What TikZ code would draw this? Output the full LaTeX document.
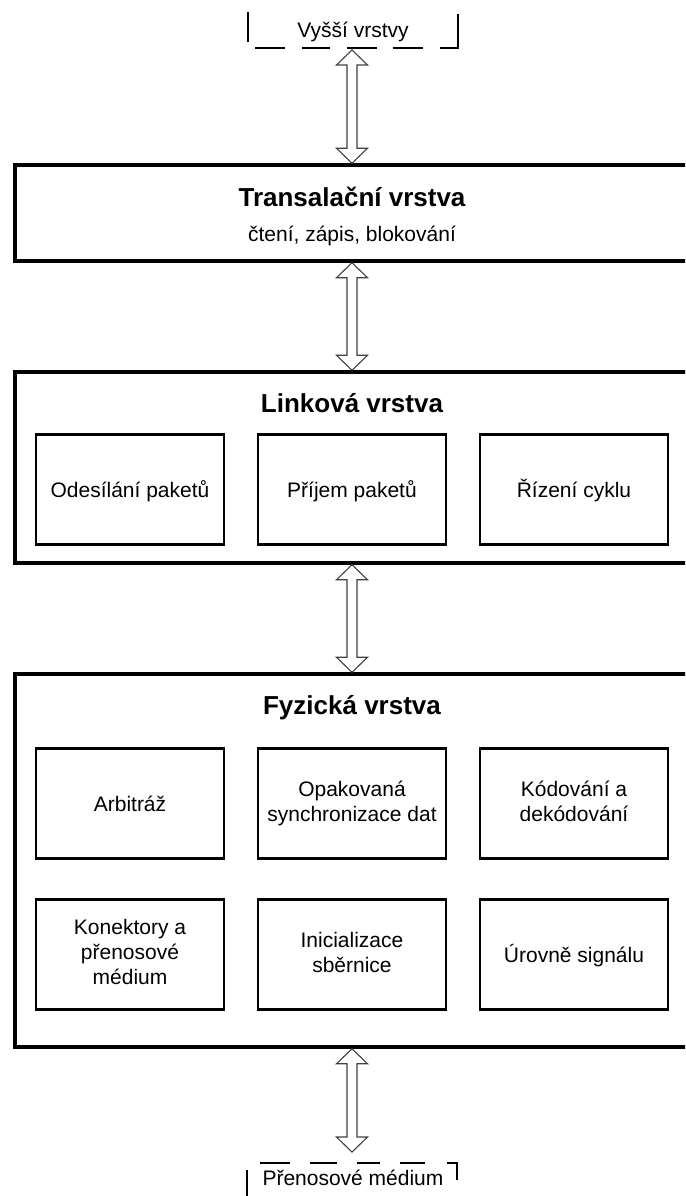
\documentclass[tikz,border=0pt]{standalone}
\usepackage{fontspec}
\setmainfont{Liberation Sans}
\usetikzlibrary{calc}

\tikzset{
  layer/.style={draw, line width=3.5pt, minimum width=674pt, inner sep=0pt},
  unit/.style={draw, line width=2.6pt, minimum width=188pt, minimum height=110pt, inner sep=0pt, align=center, font=\fontsize{21}{25}\selectfont,
    execute at begin node=\rule{0pt}{20pt}, execute at end node=\rule[-5pt]{0pt}{5pt}},
  title/.style={font=\fontsize{26}{30}\selectfont\bfseries},
  plain/.style={font=\fontsize{21}{25}\selectfont},
  frame/.style={line width=1.8pt},
  blockarrow/.style={line width=1.1pt, draw=black!75, fill=white, line join=miter},
}
\newcommand\layerarrow[2]{\draw[blockarrow] (#1) -- ++(15.5,15) -- ++(-10.5,0) -- ($(#2)+(5,-15)$) -- ++(10.5,0) -- (#2) -- ++(-15.5,-15) -- ++(10.5,0) -- ($(#1)+(-5,15)$) -- ++(-10.5,0) -- cycle;}

\begin{document}
\begin{tikzpicture}[x=1pt, y=-1pt]
			%%%%% START %%%%%
			\useasboundingbox (0,0) rectangle (685,1196);
			\clip (0,0) rectangle (685,1196);
			
			% upper layers
			\node[plain] (vyssi) at (353,32) {Vyšší vrstvy};
			\draw[frame, dash pattern=on 30pt off 13pt on 30pt off 17pt on 28pt off 17pt on 30pt off 16pt on 30pt off 17pt on 52pt off 100pt]
				(248,12) -- (248,48) -- (458,48) -- (458,-20);
			\coordinate (vyssiB) at (352,50);
			
			% transaction layer
			\node[layer, minimum height=96pt] (trans) at (352,213) {};
			\node[title] (transT) at (352,197) {Transalační vrstva};
			\node[plain] (transS) at (352,236) {čtení, zápis, blokování};
			
			% link layer
			\node[layer, minimum height=191pt] (link) at (352,467.5) {};
			\node[title] (linkT) at (352,403) {Linková vrstva};
			\node[unit] (odes) at (130,489.5) {Odesílání paketů};
			\node[unit] (prij) at (352,489.5) {Příjem paketů};
			\node[unit] (rize) at (574,489.5) {Řízení cyklu};
			
			% physical layer
			\node[layer, minimum height=373pt] (fyz) at (352,860.5) {};
			\node[title] (fyzT) at (352,708) {Fyzická vrstva};
			\node[unit] (arbi) at (130,803.5) {Arbitráž};
			\node[unit] (sync) at (352,803.5) {Opakovaná\\synchronizace dat};
			\node[unit] (kodo) at (574,803.5) {Kódování a\\dekódování};
			\node[unit] (kone) at (130,954.5) {Konektory a\\přenosové\\médium};
			\node[unit] (init) at (352,954.5) {Inicializace\\sběrnice};
			\node[unit] (urov) at (574,954.5) {Úrovně signálu};
			
			% medium
			\node[plain] (medium) at (353,1178) {Přenosové médium};
			\draw[frame, dash pattern=on 26pt off 20pt on 30pt off 20pt on 27pt off 20pt on 23pt off 20pt on 25pt off 22pt on 27pt off 100pt]
				(247,1196) -- (247,1163) -- (457,1163) -- (457,1210);
			\coordinate (mediumT) at (352,1152);
			
			% arrows between layers
			\layerarrow{vyssiB}{trans.north}
			\layerarrow{trans.south}{link.north}
			\layerarrow{link.south}{fyz.north}
			\layerarrow{fyz.south}{mediumT}
			
			%%%%% END %%%%%
\end{tikzpicture}
\end{document}
